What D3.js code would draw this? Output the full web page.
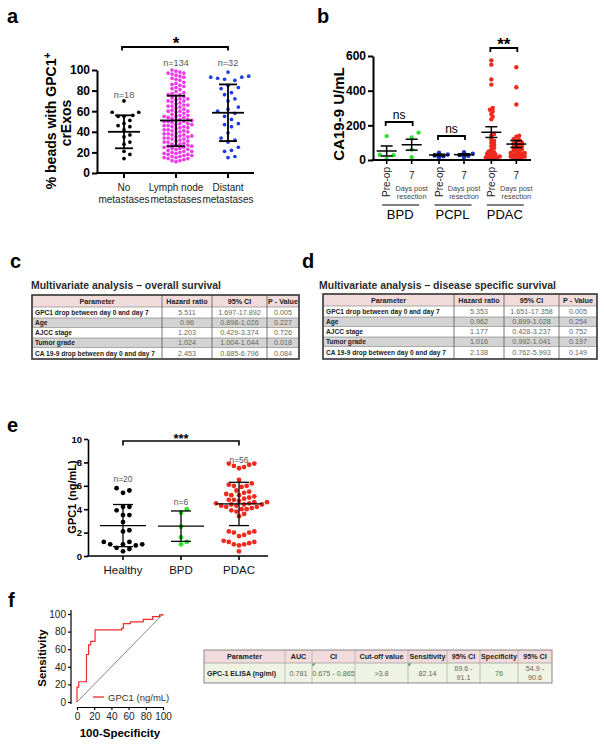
<!DOCTYPE html>
<html><head><meta charset="utf-8">
<script src="https://cdn.jsdelivr.net/npm/d3@7"></script>
<style>body{margin:0;background:#fff}svg{display:block}text{font-family:"Liberation Sans",Arial,Helvetica,sans-serif}</style>
</head><body><svg id="fig" width="604" height="745"></svg>
<script>
// ---------------- DATA ----------------
// Panel a
const catsA = ["No metastases", "Lymph node metastases", "Distant metastases"];
const labelsA = [["No", "metastases"], ["Lymph node", "metastases"], ["Distant", "metastases"]];
const noMet = [70, 59, 59, 56, 55, 55, 51, 48, 46, 45, 42, 37, 35, 30, 28, 21, 18, 14];
const lymph = [100, 99, 98, 97, 97, 96, 95, 94, 93, 92, 91, 90,
  88, 87, 86, 85, 84, 83, 82, 81,
  79, 78, 77, 76, 76, 75, 74, 73, 72, 71, 70, 70,
  69, 68, 67, 66, 66, 65, 64, 63, 62, 61, 60, 60, 60,
  59, 58, 57, 56, 56, 55, 54, 54, 53, 52, 51, 50, 50, 50, 51, 52,
  49, 48, 47, 46, 46, 45, 44, 44, 43, 42, 41, 40, 40, 41, 45, 47,
  39, 38, 37, 36, 36, 35, 34, 34, 33, 32, 31, 30, 30, 31, 35, 37,
  29, 28, 27, 26, 26, 25, 24, 24, 23, 22, 21, 20, 20, 21, 25, 27,
  19, 18, 17, 16, 16, 15, 14, 14, 13, 12, 12, 11, 15, 17, 18,
  55, 48, 38, 28, 65, 72, 42, 33, 23, 19];
const distant = [98, 94, 93, 93, 92, 91, 90, 85, 83, 82, 78, 76, 72, 70, 64, 62, 60, 58, 55, 52, 48, 47, 45, 39, 34, 32, 30, 25, 22, 21, 16, 15];
const meanA = [40, 51, 58.5];
const sdLoA = [24, 26, 31];
const sdHiA = [56, 75, 86];
const nLabelsA = ["n=18", "n=134", "n=32"];
const ticksA = [0, 20, 40, 60, 80, 100];

// Panel b
const groupsB = ["BPD", "PCPL", "PDAC"];
const timesB = ["Pre-op", "7"];
const bpdPre = [138, 30, 28, 6];
const bpd7 = [158, 130, 60, 16];
const pcplPre = [42, 32, 26, 22, 15];
const pcpl7 = [45, 36, 28, 24, 16];
const pdacPre = [575, 550, 465, 435, 300, 290, 280, 265, 250, 235, 150, 140, 120, 110, 100, 90, 80, 70, 60, 50, 45, 40, 35, 30, 25, 20, 20, 15, 10, 10, 5, 5];
const pdac7 = [535, 420, 320, 140, 135, 120, 115, 110, 100, 95, 90, 85, 80, 75, 70, 65, 60, 55, 50, 45, 40, 40, 35, 30, 30, 25, 20, 20, 15, 10, 10, 5];
const meanB = [52, 88, 29, 31, 160, 92];
const semLoB = [23, 57, 24, 26, 130, 72];
const semHiB = [81, 120, 34, 36, 192, 112];
const ticksB = [0, 200, 400, 600];

// Panel c / d tables
const tableHeader = ["Parameter", "Hazard ratio", "95% CI", "P - Value"];
const paramsCD = ["GPC1 drop between day 0 and day 7", "Age", "AJCC stage", "Tumor grade", "CA 19-9 drop between day 0 and day 7"];
const hrC = ["5.511", "0.96", "1.203", "1.024", "2.453"];
const ciC = ["1.697-17.892", "0.898-1.026", "0.429-3.374", "1.004-1.044", "0.885-6.796"];
const pC = ["0.005", "0.227", "0.726", "0.018", "0.084"];
const hrD = ["5.353", "0.962", "1.177", "1.016", "2.138"];
const ciD = ["1.651-17.358", "0.899-1.028", "0.428-3.237", "0.992-1.041", "0.762-5.993"];
const pD = ["0.005", "0.254", "0.752", "0.197", "0.149"];

// Panel e
const catsE = ["Healthy", "BPD", "PDAC"];
const healthy = [5.8, 5.6, 5.4, 3.9, 4.2, 4.2, 3.5, 3.5, 2.9, 2.2, 2.1, 1.2, 1.2, 1.0, 1.0, 1.0, 0.9, 0.7, 0.6, 0.4];
const bpdE = [4.0, 3.7, 2.5, 1.6, 1.2, 1.0];
const pdacE = [7.9, 7.9, 7.8, 7.7, 7.6, 7.5, 6.5, 6.2, 6.1, 6.0, 6.0, 5.9,
  5.6, 5.5, 5.4, 5.3, 5.2, 5.2, 5.1, 5.0, 4.9, 4.8, 4.8, 4.7, 4.6, 4.6, 4.5, 4.5, 4.4, 4.4, 4.4, 4.3, 4.3, 4.2, 4.2, 4.1, 4.0, 4.0, 3.9, 3.8,
  3.6, 3.4, 2.1, 2.1, 2.0, 2.0, 1.8, 1.7, 1.3, 1.2, 1.2, 1.1, 1.0, 1.0, 0.9, 0.4];
const meanE = [2.6, 2.55, 4.45];
const sdLoE = [0.8, 1.25, 2.6];
const sdHiE = [4.4, 3.85, 6.3];
const nLabelsE = ["n=20", "n=6", "n=56"];
const ticksE = [0, 2, 4, 6, 8, 10];

// Panel f
const rocFpr = [0, 0, 2, 11, 13.5, 16, 21, 52, 54, 62, 77, 88, 96, 100];
const rocTpr = [0, 17, 23, 54, 65, 69, 82, 84, 89, 91, 94, 97, 99, 100];
const ticksF = [0, 20, 40, 60, 80, 100];
const headerF = ["Parameter", "AUC", "CI", "Cut-off value", "Sensitivity", "95% CI", "Specificity", "95% CI"];
const rowF = ["GPC-1 ELISA (ng/ml)", "0.781", "0.675 - 0.865", ">3.8", "82.14", "69.6 -\n91.1", "76", "54.9 -\n90.6"];

// ---------------- DRAW ----------------
const FONT = '"Liberation Sans", Arial, Helvetica, sans-serif';
const svg = d3.select("#fig");
svg.append("rect").attr("width", 604).attr("height", 745).attr("fill", "#fff");

function txt(g, x, y, s, fs, opts = {}) {
  const t = g.append("text").attr("x", x).attr("y", y).attr("font-size", fs)
    .attr("font-family", FONT)
    .attr("font-weight", opts.bold ? "bold" : "normal")
    .attr("fill", opts.fill || "#000")
    .attr("text-anchor", opts.anchor || "start");
  if (opts.rotate) t.attr("transform", `rotate(${opts.rotate},${x},${y})`);
  if (opts.len) t.attr("textLength", opts.len).attr("lengthAdjust", "spacingAndGlyphs");
  t.text(s);
  return t;
}
function panelLabel(s, x, y) { txt(svg, x, y, s, 20, { bold: true }); }

function styleAxis(g, sw, fs, bold, fill) {
  g.attr("font-family", FONT);
  g.select(".domain").attr("stroke", "#000").attr("stroke-width", sw);
  g.selectAll(".tick line").attr("stroke", "#000").attr("stroke-width", sw);
  g.selectAll(".tick text").attr("font-size", fs).attr("font-weight", bold ? "bold" : "normal")
    .attr("fill", fill || "#000").attr("font-family", FONT);
}

function swarm(vals, ys, cx, r, gap) {
  const d = 2 * r + gap, out = [];
  const sorted = vals.slice().sort((a, b) => a - b);
  sorted.forEach(v => {
    const py = ys(v);
    for (let k = 0; k < 400; k++) {
      const off = (k % 2 ? 1 : -1) * Math.ceil(k / 2) * d * 0.5;
      const px = cx + off;
      if (out.every(p => (p.x - px) ** 2 + (p.y - py) ** 2 >= d * d * 0.999)) { out.push({ x: px, y: py }); break; }
    }
  });
  return out;
}
function dots(g, pts, r, color) {
  g.selectAll(null).data(pts).enter().append("circle")
    .attr("cx", d => d.x).attr("cy", d => d.y).attr("r", r).attr("fill", color);
}
function errBar(g, cx, ys, m, lo, hi, hw, cw, sw) {
  const L = (x1, y1, x2, y2) => g.append("line").attr("x1", x1).attr("y1", y1).attr("x2", x2).attr("y2", y2)
    .attr("stroke", "#000").attr("stroke-width", sw);
  L(cx, ys(lo), cx, ys(hi));
  L(cx - hw, ys(m), cx + hw, ys(m));
  L(cx - cw, ys(lo), cx + cw, ys(lo));
  L(cx - cw, ys(hi), cx + cw, ys(hi));
}
function bracket(g, x1, x2, y, tick, sw) {
  g.append("path").attr("d", `M${x1},${y + tick}V${y}H${x2}V${y + tick}`)
    .attr("fill", "none").attr("stroke", "#000").attr("stroke-width", sw);
}

// ----- Panel a -----
panelLabel("a", 7, 23);
{
  const g = svg.append("g");
  const y = d3.scaleLinear().domain([0, 100]).range([173, 70]);
  const x = d3.scalePoint().domain(catsA).range([98, 254]).padding(0.5);
  const cols = ["#000", "#ee3be8", "#1e3be6"];
  const sets = [noMet, lymph, distant];
  const gaps = [2.2, 0.25, 3.2];
  sets.forEach((s, i) => dots(g, swarm(s, y, x(catsA[i]), 1.85, gaps[i]), 1.85, cols[i]));
  catsA.forEach((c, i) => errBar(g, x(c), y, meanA[i], sdLoA[i], sdHiA[i], 16, 9, 1.8));
  const ya = g.append("g").attr("transform", "translate(97,0)")
    .call(d3.axisLeft(y).tickValues(ticksA).tickSize(5).tickSizeOuter(0).tickPadding(2));
  styleAxis(ya, 2, 12, true);
  g.append("line").attr("x1", 96).attr("x2", 254).attr("y1", 173).attr("y2", 173).attr("stroke", "#000").attr("stroke-width", 2);
  catsA.forEach((c, i) => {
    g.append("line").attr("x1", x(c)).attr("x2", x(c)).attr("y1", 173).attr("y2", 178).attr("stroke", "#000").attr("stroke-width", 2);
    txt(g, x(c), 191, labelsA[i][0], 10, { anchor: "middle", fill: "#222" });
    txt(g, x(c), 203, labelsA[i][1], 10, { anchor: "middle", fill: "#222" });
  });
  txt(g, x(catsA[0]), 98, nLabelsA[0], 9, { anchor: "middle", fill: "#555" });
  txt(g, x(catsA[1]), 66, nLabelsA[1], 9, { anchor: "middle", fill: "#555" });
  txt(g, x(catsA[2]), 66, nLabelsA[2], 9, { anchor: "middle", fill: "#555" });
  bracket(g, x(catsA[0]) - 2, x(catsA[2]), 47, 3.5, 1.8);
  txt(g, x(catsA[1]), 49, "*", 17, { anchor: "middle", bold: true });
  const t1 = g.append("text").attr("transform", "translate(56,121) rotate(-90)").attr("text-anchor", "middle")
    .attr("font-size", 14).attr("font-weight", "bold").attr("font-family", FONT);
  t1.append("tspan").text("% beads with GPC1");
  t1.append("tspan").attr("dy", -5).attr("font-size", 10).text("+");
  txt(g, 71, 123, "crExos", 14, { bold: true, anchor: "middle", rotate: -90 });
}

// ----- Panel b -----
panelLabel("b", 317, 23);
{
  const g = svg.append("g");
  const y = d3.scaleLinear().domain([0, 600]).range([160, 56]);
  const xg = d3.scalePoint().domain(groupsB).range([373, 530]).padding(0.5);
  const xs = d3.scalePoint().domain(timesB).range([-12.5, 12.5]);
  const cols = ["#2fe02f", "#1b39c9", "#ee2a1e"];
  const sets = [[bpdPre, bpd7], [pcplPre, pcpl7], [pdacPre, pdac7]];
  const gapsB = [2.5, 0.0, -1.6];
  let k = 0;
  groupsB.forEach((gr, i) => {
    timesB.forEach((t, j) => {
      const cx = xg(gr) + xs(t);
      dots(g, swarm(sets[i][j], y, cx, 2.2, gapsB[i]), 2.2, cols[i]);
      errBar(g, cx, y, meanB[k], semLoB[k], semHiB[k], 10, 6, 1.5);
      k++;
    });
  });
  const ya = g.append("g").attr("transform", "translate(373,0)")
    .call(d3.axisLeft(y).tickValues(ticksB).tickSize(5).tickSizeOuter(0).tickPadding(2));
  styleAxis(ya, 2, 12, true);
  g.append("line").attr("x1", 372).attr("x2", 531).attr("y1", 160).attr("y2", 160).attr("stroke", "#000").attr("stroke-width", 2);
  groupsB.forEach((gr, i) => {
    timesB.forEach((t, j) => {
      const cx = xg(gr) + xs(t);
      g.append("line").attr("x1", cx).attr("x2", cx).attr("y1", 160).attr("y2", 164).attr("stroke", "#000").attr("stroke-width", 1.6);
      if (j === 0) {
        txt(g, cx + 3.5, 167, t, 10, { anchor: "end", rotate: -90, fill: "#222" });
      } else {
        txt(g, cx, 179, t, 10, { anchor: "middle", fill: "#222" });
        txt(g, cx, 191, "Days post", 7.3, { anchor: "middle", fill: "#444" });
        txt(g, cx, 199, "resection", 7.3, { anchor: "middle", fill: "#444" });
      }
    });
    g.append("line").attr("x1", xg(gr) - 17).attr("x2", xg(gr) + 20).attr("y1", 205).attr("y2", 205).attr("stroke", "#000").attr("stroke-width", 1.2);
    txt(g, xg(gr) + 1, 219, gr, 13, { anchor: "middle" });
  });
  const sigs = [["ns", 122], ["ns", 136], ["**", 48]];
  groupsB.forEach((gr, i) => {
    const x1 = xg(gr) + xs(timesB[0]) - 1, x2 = xg(gr) + xs(timesB[1]) + 1;
    bracket(g, x1, x2, sigs[i][1], 4, 1.8);
    if (i < 2) txt(g, xg(gr), sigs[i][1] - 3, "ns", 12, { anchor: "middle" });
    else txt(g, xg(gr), sigs[i][1] + 2, "**", 17, { anchor: "middle", bold: true });
  });
  txt(g, 344, 114, "CA19-9 U/mL", 15, { bold: true, anchor: "middle", rotate: -90 });
}

// ----- Tables -----
function drawTable(g, colEdges, rowEdges, cells, fills, opts) {
  const nR = rowEdges.length - 1, nC = colEdges.length - 1;
  for (let r = 0; r < nR; r++) {
    g.append("rect").attr("x", colEdges[0]).attr("y", rowEdges[r])
      .attr("width", colEdges[nC] - colEdges[0]).attr("height", rowEdges[r + 1] - rowEdges[r]).attr("fill", fills[r]);
  }
  for (let r = 1; r < nR; r++) g.append("line").attr("x1", colEdges[0]).attr("x2", colEdges[nC])
    .attr("y1", rowEdges[r]).attr("y2", rowEdges[r]).attr("stroke", opts.inner).attr("stroke-width", opts.innerW);
  for (let c = 1; c < nC; c++) g.append("line").attr("x1", colEdges[c]).attr("x2", colEdges[c])
    .attr("y1", rowEdges[0]).attr("y2", rowEdges[nR]).attr("stroke", opts.vline).attr("stroke-width", opts.vW);
  g.append("rect").attr("x", colEdges[0]).attr("y", rowEdges[0])
    .attr("width", colEdges[nC] - colEdges[0]).attr("height", rowEdges[nR] - rowEdges[0])
    .attr("fill", "none").attr("stroke", opts.outer).attr("stroke-width", opts.outerW);
  cells.forEach((row, r) => row.forEach((s, c) => {
    const lines = s.split("\n");
    const cyMid = (rowEdges[r] + rowEdges[r + 1]) / 2;
    const header = r === 0;
    const left = c === 0 && !header;
    const x = left ? colEdges[0] + 3 : (colEdges[c] + colEdges[c + 1]) / 2;
    const fs = left ? opts.fsParam : opts.fs;
    lines.forEach((ln, li) => {
      const yy = cyMid + fs * 0.36 + (li - (lines.length - 1) / 2) * opts.fs * 1.15;
      txt(g, x, yy, ln, fs, {
        anchor: left ? "start" : "middle",
        bold: header || c === 0,
        fill: header || c === 0 ? "#222" : "#666"
      });
    });
  }));
}

panelLabel("c", 10, 268);
txt(svg, 31, 289, "Multivariate analysis \u2013 overall survival", 11, { bold: true, fill: "#2a2a2a", len: 190 });
{
  const cells = [tableHeader].concat(paramsCD.map((p, i) => [p, hrC[i], ciC[i], pC[i]]));
  drawTable(svg.append("g"), [32, 162, 212, 267, 299], [295, 307, 318, 327.5, 338, 347.5, 359], cells,
    ["#f2dcdb", "#fff", "#d3d3d3", "#fff", "#d3d3d3", "#fff"],
    { inner: "#777", innerW: 0.6, vline: "#555", vW: 0.8, outer: "#333", outerW: 1.6, fs: 7.2, fsParam: 6.6 });
}
panelLabel("d", 302, 268);
txt(svg, 319, 289, "Multivariate analysis \u2013 disease specific survival", 11, { bold: true, fill: "#2a2a2a", len: 237 });
{
  const cells = [tableHeader].concat(paramsCD.map((p, i) => [p, hrD[i], ciD[i], pD[i]]));
  drawTable(svg.append("g"), [323, 454, 504, 559, 597], [294, 306, 317, 326.5, 337, 346.5, 359], cells,
    ["#f2dcdb", "#fff", "#d3d3d3", "#fff", "#d3d3d3", "#fff"],
    { inner: "#777", innerW: 0.6, vline: "#555", vW: 0.8, outer: "#333", outerW: 1.6, fs: 7.2, fsParam: 6.6 });
}

// ----- Panel e -----
panelLabel("e", 7, 432);
{
  const g = svg.append("g");
  const y = d3.scaleLinear().domain([0, 10]).range([556, 439]);
  const x = d3.scalePoint().domain(catsE).range([94, 268]).padding(0.5);
  const cols = ["#000", "#2fe02f", "#ee2a1e"];
  const sets = [healthy, bpdE, pdacE];
  const gapsE = [1.6, 1.0, 0.3];
  sets.forEach((s, i) => dots(g, swarm(s, y, x(catsE[i]), 2.4, gapsE[i]), 2.4, cols[i]));
  catsE.forEach((c, i) => errBar(g, x(c), y, meanE[i], sdLoE[i], sdHiE[i], 23, 10, 1.3));
  const ya = g.append("g").attr("transform", "translate(88,0)")
    .call(d3.axisLeft(y).tickValues(ticksE).tickSize(4).tickSizeOuter(0).tickPadding(2));
  styleAxis(ya, 1.6, 9.5, true);
  g.append("line").attr("x1", 87).attr("x2", 268).attr("y1", 556).attr("y2", 556).attr("stroke", "#000").attr("stroke-width", 1.6);
  catsE.forEach((c, i) => {
    g.append("line").attr("x1", x(c)).attr("x2", x(c)).attr("y1", 556).attr("y2", 560).attr("stroke", "#000").attr("stroke-width", 1.6);
    txt(g, x(c), 574, c, 11.5, { anchor: "middle", fill: "#111" });
  });
  txt(g, x(catsE[0]), 482, nLabelsE[0], 8.5, { anchor: "middle", fill: "#555" });
  txt(g, x(catsE[1]), 505, nLabelsE[1], 8.5, { anchor: "middle", fill: "#555" });
  txt(g, x(catsE[2]), 463, nLabelsE[2], 8.5, { anchor: "middle", fill: "#555" });
  bracket(g, x(catsE[0]), x(catsE[2]), 441, 4.5, 1.6);
  txt(g, x(catsE[1]), 443, "***", 13, { anchor: "middle", bold: true });
  txt(g, 76, 497, "GPC1 (ng/mL)", 11, { bold: true, anchor: "middle", rotate: -90 });
}

// ----- Panel f -----
panelLabel("f", 8, 607);
{
  const g = svg.append("g");
  const x = d3.scaleLinear().domain([0, 100]).range([77, 163]);
  const y = d3.scaleLinear().domain([0, 100]).range([702, 614]);
  g.append("line").attr("x1", x(0)).attr("y1", y(0)).attr("x2", x(100)).attr("y2", y(100)).attr("stroke", "#666").attr("stroke-width", 0.8);
  const pts = rocFpr.map((f, i) => [f, rocTpr[i]]);
  g.append("path").attr("d", d3.line().x(d => x(d[0])).y(d => y(d[1])).curve(d3.curveStepAfter)(pts))
    .attr("fill", "none").attr("stroke", "#ef2b2b").attr("stroke-width", 1.2);
  const ya = g.append("g").attr("transform", "translate(71,0)")
    .call(d3.axisLeft(y).tickValues(ticksF).tickSize(3).tickSizeOuter(0).tickPadding(2));
  styleAxis(ya, 1.2, 10, false, "#222");
  ya.select(".domain").attr("d", "M0,610V704");
  const xa = g.append("g").attr("transform", "translate(0,707)")
    .call(d3.axisBottom(x).tickValues(ticksF).tickSize(3).tickSizeOuter(0).tickPadding(3));
  styleAxis(xa, 1.2, 10, false, "#222");
  txt(g, 120, 737, "100-Specificity", 11.5, { bold: true, anchor: "middle" });
  txt(g, 46, 658, "Sensitivity", 11.5, { bold: true, anchor: "middle", rotate: -90 });
  g.append("line").attr("x1", 93).attr("x2", 104).attr("y1", 697).attr("y2", 697).attr("stroke", "#ef2b2b").attr("stroke-width", 1.3);
  txt(g, 108, 700.5, "GPC1 (ng/mL)", 9.5, { fill: "#333" });
}
{
  const g = svg.append("g");
  drawTable(g, [204, 285, 312, 355, 408, 447, 480, 518, 552], [650, 663, 683], [headerF, rowF],
    ["#f2dcdb", "#eef3e3"],
    { inner: "#999", innerW: 0.7, vline: "#aaa", vW: 0.7, outer: "#888", outerW: 1, fs: 7.2, fsParam: 7.0 });
  [[312, 663], [408, 663]].forEach(p => g.append("path").attr("d", `M${p[0] + 0.5},${p[1] + 0.5}h3l-3,3z`).attr("fill", "#3a8a3a"));
}
</script></body></html>
